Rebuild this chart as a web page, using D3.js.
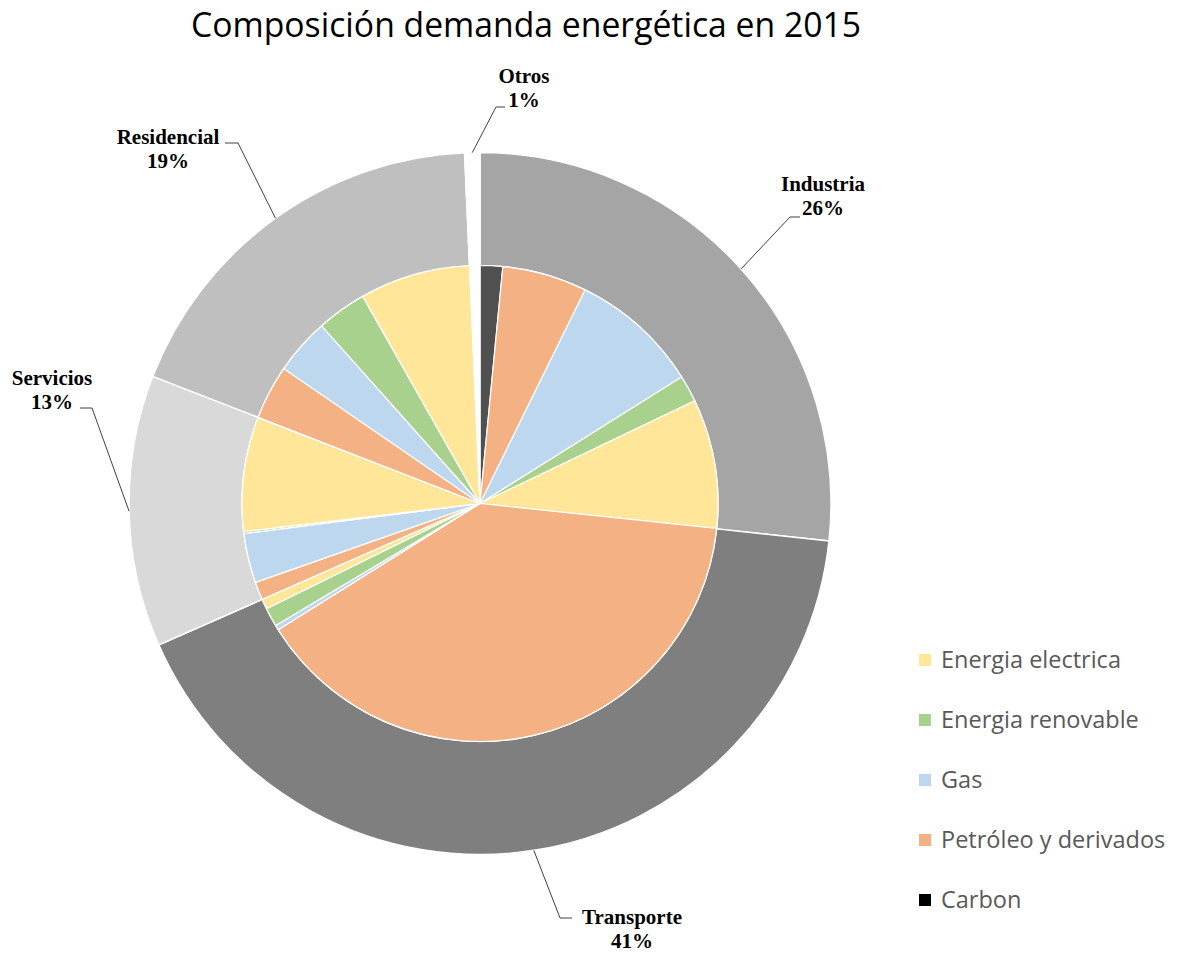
<!DOCTYPE html>
<html>
<head>
<meta charset="utf-8">
<script src="https://cdn.jsdelivr.net/npm/d3@7"></script>
<style>
  body { margin: 0; background: #fff; }
  svg { display: block; }
</style>
</head>
<body>
<svg id="chart"></svg>
<script>
// sectors (outer ring), share of total demand in %
const sectors = ['Industria', 'Transporte', 'Servicios', 'Residencial', 'Otros'];
const sectorValues = [26.7, 41.7, 12.5, 18.4, 0.7];
const sectorLabels = ['26%', '41%', '13%', '19%', '1%'];

// energy sources (inner pie), clockwise order inside each sector
const energies = ['Carbon', 'Petróleo y derivados', 'Gas', 'Energia renovable', 'Energia electrica'];
const industria = [1.53, 5.75, 8.81, 1.81, 8.78];
const transporte = [0, 39.44, 0.33, 1.28, 0.69];
const servicios = [0, 1.22, 3.36, 0.14, 7.75];
const residencial = [0.03, 3.69, 3.83, 3.39, 7.5];
const otros = [0, 0, 0, 0, 0];

const legendOrder = ['Energia electrica', 'Energia renovable', 'Gas', 'Petróleo y derivados', 'Carbon'];

const sectorColor = d3.scaleOrdinal()
    .domain(sectors)
    .range(['#a5a5a5', '#7f7f7f', '#d9d9d9', '#bfbfbf', '#ffffff']);
const energyColor = d3.scaleOrdinal()
    .domain(energies)
    .range(['#505050', '#f4b183', '#bdd7ee', '#a9d18e', '#ffe699']);
const legendColor = d3.scaleOrdinal()
    .domain(energies)
    .range(['#000000', '#f4b183', '#bdd7ee', '#a9d18e', '#ffe699']);

const width = 1178, height = 955;
const cx = 480, cy = 503.5;
const rInner = 238, rOuter = 351;

const svg = d3.select('#chart').attr('width', width).attr('height', height);

svg.append('text')
    .attr('x', 526)
    .attr('y', 37)
    .attr('text-anchor', 'middle')
    .attr('textLength', 670)
    .attr('lengthAdjust', 'spacingAndGlyphs')
    .style('font-family', 'Open Sans, Noto Sans, sans-serif')
    .style('font-size', '34px')
    .style('fill', '#000')
    .text('Composición demanda energética en 2015');

const g = svg.append('g').attr('transform', `translate(${cx},${cy})`);

// inner pie data: breakdown per sector, white filler where there is none
const breakdown = [industria, transporte, servicios, residencial, otros];
const innerData = [];
sectors.forEach((s, i) => {
    const row = breakdown[i];
    const sum = d3.sum(row);
    if (sum === 0) {
        innerData.push({ sector: s, energy: null, value: sectorValues[i] });
    } else {
        row.forEach((v, j) => {
            if (v > 0) innerData.push({ sector: s, energy: energies[j], value: v });
        });
    }
});

const pie = d3.pie().sort(null).value(d => d.value);
const innerArc = d3.arc().innerRadius(0).outerRadius(rInner);
const outerArc = d3.arc().innerRadius(rInner).outerRadius(rOuter);

const outerData = sectors.map((s, i) => ({ sector: s, value: sectorValues[i], label: sectorLabels[i] }));
const outerArcs = pie(outerData);

g.selectAll('path.outer')
    .data(outerArcs)
    .join('path')
    .attr('class', 'outer')
    .attr('d', outerArc)
    .attr('fill', d => sectorColor(d.data.sector))
    .attr('stroke', '#fff')
    .attr('stroke-width', 1.5);

g.selectAll('path.inner')
    .data(pie(innerData))
    .join('path')
    .attr('class', 'inner')
    .attr('d', innerArc)
    .attr('fill', d => d.data.energy ? energyColor(d.data.energy) : '#fff')
    .attr('stroke', '#fff')
    .attr('stroke-width', 1.2);

// data labels with leader lines
const labelLayout = {
    Industria:   { x: 823, y: 191, elbow: [790, 217], end: [800, 217] },
    Transporte:  { x: 632, y: 924, elbow: [560, 918], end: [572, 918] },
    Servicios:   { x: 52,  y: 385, elbow: [92, 408],  end: [80, 408] },
    Residencial: { x: 168, y: 144, elbow: [238, 143], end: [225, 143] },
    Otros:       { x: 524, y: 83,  elbow: [496, 107], end: [505, 107] }
};

outerArcs.forEach(d => {
    const lay = labelLayout[d.data.sector];
    const mid = (d.startAngle + d.endAngle) / 2;
    const p0 = [cx + rOuter * Math.sin(mid), cy - rOuter * Math.cos(mid)];
    svg.append('polyline')
        .attr('points', [p0, lay.elbow, lay.end].map(p => p.join(',')).join(' '))
        .attr('fill', 'none')
        .attr('stroke', '#404040')
        .attr('stroke-width', 1);
    const t = svg.append('text')
        .attr('text-anchor', 'middle')
        .style('font-family', 'Liberation Serif, Times New Roman, serif')
        .style('font-weight', 'bold')
        .style('font-size', '21px')
        .style('fill', '#000');
    t.append('tspan').attr('x', lay.x).attr('y', lay.y).text(d.data.sector);
    t.append('tspan').attr('x', lay.x).attr('y', lay.y + 24).text(d.data.label);
});

// legend
const legend = svg.append('g').attr('transform', 'translate(919,660)');
const rows = legend.selectAll('g')
    .data(legendOrder)
    .join('g')
    .attr('transform', (d, i) => `translate(0,${i * 60})`);
rows.append('rect')
    .attr('x', 0).attr('y', -6)
    .attr('width', 12).attr('height', 12)
    .attr('fill', d => legendColor(d));
rows.append('text')
    .attr('x', 22).attr('y', 8)
    .style('font-family', 'Open Sans, Noto Sans, sans-serif')
    .style('font-size', '23.5px')
    .style('fill', '#595959')
    .text(d => d);
</script>
</body>
</html>
